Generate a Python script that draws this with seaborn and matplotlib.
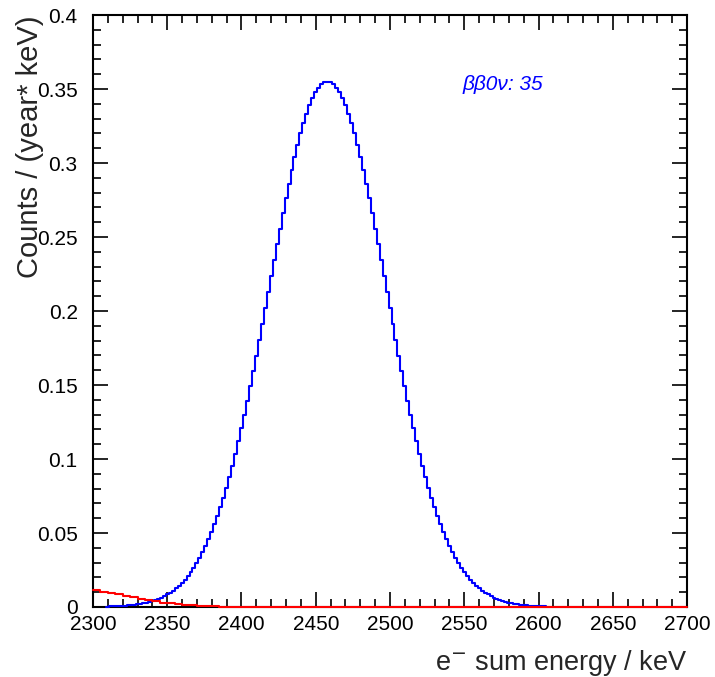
import numpy as np
import matplotlib
matplotlib.use("Agg")
import matplotlib.pyplot as plt
import seaborn as sns
from matplotlib.ticker import MultipleLocator, FormatStrFormatter

# Signal histogram (2 keV bins, centres 2310 ... 2604)
blue_energy = np.arange(2310, 2606, 2)
blue_counts = [
    0.00032, 0.00038, 0.00046, 0.00056, 0.00066, 0.00079, 0.00095, 0.00113, 0.00134, 0.00158,
    0.00186, 0.00219, 0.00257, 0.00301, 0.00352, 0.00410, 0.00476, 0.00551, 0.00637, 0.00735,
    0.00845, 0.00969, 0.01109, 0.01266, 0.01441, 0.01635, 0.01852, 0.02091, 0.02357, 0.02648,
    0.02966, 0.03318, 0.03699, 0.04115, 0.04565, 0.05052, 0.05577, 0.06138, 0.06742, 0.07384,
    0.08066, 0.08790, 0.09553, 0.1036, 0.1120, 0.1208, 0.1300, 0.1394, 0.1492, 0.1593,
    0.1697, 0.1802, 0.1909, 0.2017, 0.2126, 0.2235, 0.2343, 0.2451, 0.2557, 0.2661,
    0.2762, 0.2859, 0.2951, 0.3040, 0.3123, 0.3200, 0.3270, 0.3334, 0.3390, 0.3438,
    0.3478, 0.3509, 0.3532, 0.3545,
    0.3550,
    0.3545, 0.3532, 0.3509, 0.3478, 0.3438, 0.3390, 0.3334, 0.3270, 0.3200, 0.3123,
    0.3040, 0.2951, 0.2859, 0.2762, 0.2661, 0.2557, 0.2451, 0.2343, 0.2235, 0.2126,
    0.2017, 0.1909, 0.1802, 0.1697, 0.1593, 0.1492, 0.1394, 0.1300, 0.1208, 0.1120,
    0.1036, 0.0955, 0.0879, 0.0807, 0.0738, 0.0674, 0.0614, 0.0558, 0.0505, 0.0457,
    0.0412, 0.0370, 0.0332, 0.0297, 0.0265, 0.0236, 0.0209, 0.0185, 0.0164, 0.0144,
    0.0127, 0.0111, 0.0097, 0.0085, 0.0073, 0.0064, 0.0055, 0.0048, 0.0041, 0.0035,
    0.0030, 0.0026, 0.0022, 0.0019, 0.0016, 0.0013, 0.0011, 0.0009, 0.0008, 0.0007,
    0.0006, 0.0005, 0.0004,
]

# Background (2nu) tail, step edges
red_energy = [2300, 2305, 2310, 2315, 2320, 2325, 2330, 2335, 2340, 2345,
              2350, 2355, 2360, 2365, 2370, 2375, 2380, 2385, 2390, 2395, 2400, 2700]
red_counts = [0.0112, 0.0102, 0.0093, 0.0085, 0.0077, 0.0067, 0.0057, 0.0047, 0.0038, 0.0030,
              0.0024, 0.0019, 0.0015, 0.0011, 0.0008, 0.0006, 0.0005, 0.0003, 0.0002, 0.0001, 0.0, 0.0]

label_text = "ββ0ν: 35"

sns.set_style("ticks")
plt.rcParams['font.family'] = ['Liberation Sans', 'DejaVu Sans']

fig = plt.figure(figsize=(7.15, 6.77), dpi=100)
ax = fig.add_axes([0.130, 0.1034, 0.831, 0.8744])

sns.histplot(x=blue_energy, weights=blue_counts, binwidth=2, binrange=(2309, 2605),
             element='step', fill=False, color='blue', linewidth=1.5,
             clip_on=False, zorder=4, ax=ax)
sns.lineplot(x=red_energy, y=red_counts, estimator=None, drawstyle='steps-post',
             color='red', linewidth=1.5, clip_on=False, zorder=5, ax=ax)

ax.set_xlim(2300, 2700)
ax.set_ylim(0, 0.4)
ax.xaxis.set_major_locator(MultipleLocator(50))
ax.xaxis.set_minor_locator(MultipleLocator(10))
ax.yaxis.set_major_locator(MultipleLocator(0.05))
ax.yaxis.set_minor_locator(MultipleLocator(0.01))
ax.yaxis.set_major_formatter(FormatStrFormatter('%g'))

ax.tick_params(which='both', direction='in', top=True, right=True, width=1.2, colors='black')
ax.tick_params(which='major', length=11, labelsize=15)
ax.tick_params(axis='y', which='major', pad=11)
ax.tick_params(axis='x', which='major', pad=6)
ax.tick_params(which='minor', length=6)
for s in ax.spines.values():
    s.set_linewidth(1.5)
    s.set_color('black')

ax.set_xlabel("e$^{-}$ sum energy / keV", fontsize=19.5, loc='right')
ax.xaxis.set_label_coords(1.0, -0.07)
ax.set_ylabel("Counts / (year* keV)", fontsize=21, loc='top')
ax.yaxis.set_label_coords(-0.082, 1.0)

ax.text(2549, 0.353, label_text, color='blue', fontsize=15, style='italic',
        ha='left', va='center')

plt.savefig("out.png", dpi=100)
plt.close()
